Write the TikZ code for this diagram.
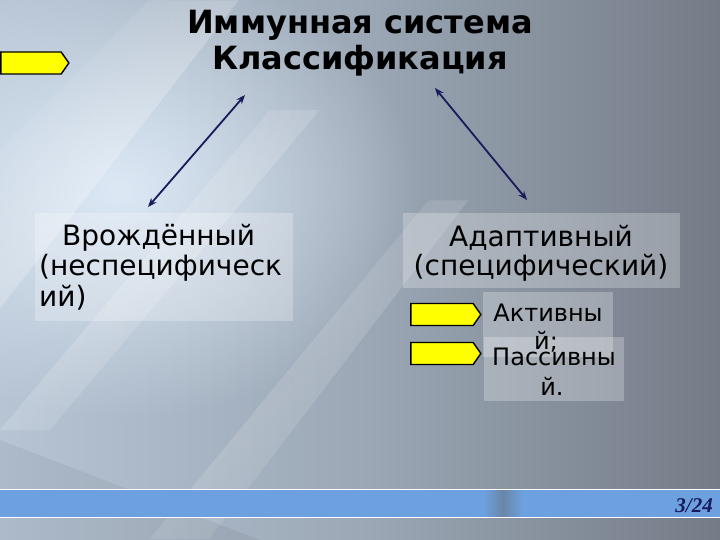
\documentclass[tikz,border=0pt]{standalone}
\usepackage{fontspec}
\setmainfont{DejaVu Sans}
\newfontfamily\serifbi{Liberation Serif}
\usetikzlibrary{arrows.meta,shapes.symbols,fadings}
\tikzfading[name=glowfade, inner color=transparent!0, outer color=transparent!100]
\tikzfading[name=streakfade, left color=transparent!100, right color=transparent!100, middle color=transparent!0]
\definecolor{bgL}{HTML}{B6C4D4}
\definecolor{bgM}{HTML}{9CA8B6}
\definecolor{bgR}{HTML}{737B86}
\definecolor{glow}{HTML}{E2EEFA}
\definecolor{navy}{HTML}{1A1A5C}
\definecolor{barblue}{HTML}{6CA0DE}
\definecolor{bandc}{HTML}{6A86A6}
\definecolor{ylw}{HTML}{FFFF00}
\tikzset{
  yarrow/.style={signal, signal to=east, signal pointer angle=110, fill=ylw, draw=black, line width=1.4pt, inner sep=0pt, minimum height=22pt},
  panel/.style={fill=white, fill opacity=0.25, draw=none, inner sep=0pt},
  body/.style={font=\fontsize{28}{30}\selectfont, text=black, inner sep=0pt, anchor=west},
  small/.style={font=\fontsize{24}{29}\selectfont, text=black, inner sep=0pt, anchor=center},
  link/.style={navy, line width=1.8pt, {Stealth[open,length=9pt,width=7pt]}-{Stealth[open,length=9pt,width=7pt]}},
  streak/.style={white, path fading=streakfade, fading angle=-50},
}
\begin{document}
\begin{tikzpicture}[x=1pt,y=-1pt]
\useasboundingbox (0,0) rectangle (720,540);
% background
\shade[shading angle=110, left color=bgL, right color=bgR, middle color=bgM] (0,0) rectangle (720,540);
\fill[glow, path fading=glowfade, opacity=0.9] (120,190) ellipse (300 and 230);
\fill[streak, opacity=0.25] (0,150) -- (150,0) -- (240,0) -- (0,310) -- cycle;
\fill[streak, opacity=0.18] (0,430) -- (270,110) -- (320,110) -- (50,430) -- cycle;
\fill[streak, opacity=0.15] (150,540) -- (430,200) -- (470,200) -- (210,540) -- cycle;
\fill[black, opacity=0.05] (0,440) -- (0,540) -- (260,540) -- cycle;
% title
\node[font=\bfseries\fontsize{32}{36}\selectfont, align=center, inner sep=0pt] (title) at (360,43) {Иммунная система\\Классификация};
% top-left yellow arrow
\node[yarrow, minimum width=68pt] (ya) at (31,63) {};
% panels
\node[panel, minimum width=258pt, minimum height=108pt] (innate) at (164,267) {};
\node[panel, minimum width=277pt, minimum height=75pt] (adapt) at (541.5,250.5) {};
\node[panel, minimum width=130pt, minimum height=65pt] (act) at (548,324.5) {};
\node[panel, minimum width=140pt, minimum height=64pt] (pas) at (554,369) {};
% texts
\node[body] (t1) at (62,238) {Врождённый};
\node[body] (t2) at (39,268) {(неспецифическ};
\node[body] (t3) at (39,298) {ий)};
\node[body, anchor=center] (t4) at (541,238) {Адаптивный};
\node[body, anchor=center] (t5) at (541,268) {(специфический)};
\node[small] (t6) at (548,313) {Активны};
\node[small] (t7) at (546,342) {й;};
\node[small] (t8) at (554,357) {Пассивны};
\node[small] (t9) at (552,386) {й.};
% small yellow arrows
\node[yarrow, minimum width=70pt] (y1) at (442,314.5) {};
\node[yarrow, minimum width=70pt] (y2) at (442,353.5) {};
% connectors
\coordinate (aL1) at (245,95);
\coordinate (aL2) at (148,207);
\coordinate (aR1) at (435,88);
\coordinate (aR2) at (527,200);
\draw[link] (aL1) -- (aL2);
\draw[link] (aR1) -- (aR2);
% bottom bar
\node[fill=barblue, draw=none, minimum width=720pt, minimum height=28pt, inner sep=0pt] (bar) at (360,503.5) {};
\shade[left color=barblue, right color=barblue, middle color=bandc] (484,490) rectangle (522,517);
\draw[white, line width=1.3pt] (0,489.5) -- (720,489.5);
\draw[white, line width=1.3pt] (0,517.5) -- (720,517.5);
\node[font=\serifbi\bfseries\itshape\fontsize{21}{21}\selectfont, text=navy, anchor=east, inner sep=0pt] (pg) at (713,506) {3/24};
\end{tikzpicture}
\end{document}
